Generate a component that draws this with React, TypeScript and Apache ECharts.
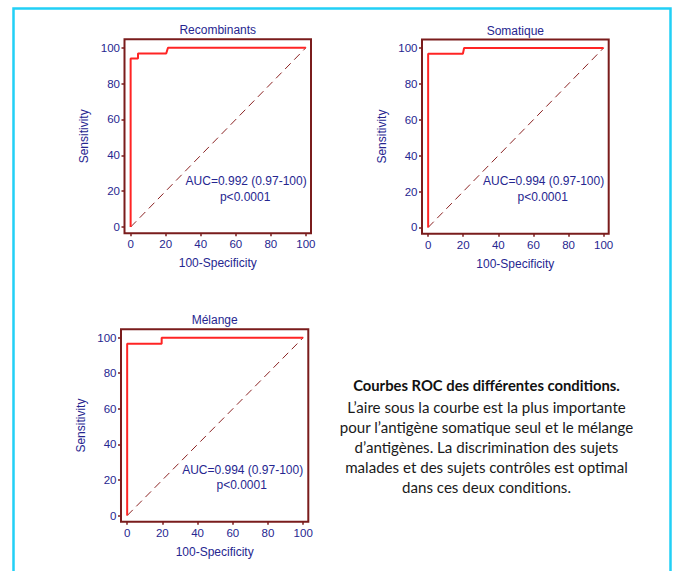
import React, { useEffect, useRef } from "react";
import * as echarts from "echarts";

// ---- data ----
const panelTitles = ["Recombinants", "Somatique", "Mélange"];
const recombinantsFpr = [0, 0, 4.2, 4.2, 20.3, 21.3, 100];
const recombinantsSens = [0, 94, 94, 96.8, 96.8, 100, 100];
const somatiqueFpr = [0, 0, 19.8, 20.5, 100];
const somatiqueSens = [0, 96.8, 96.8, 100, 100];
const melangeFpr = [0, 0, 19.6, 19.6, 100];
const melangeSens = [0, 96.6, 96.6, 100, 100];
const diagonalX = [0, 100];
const diagonalY = [0, 100];
const tickValues = [0, 20, 40, 60, 80, 100];
const aucLabels = ["AUC=0.992 (0.97-100)", "AUC=0.994 (0.97-100)", "AUC=0.994 (0.97-100)"];
const pLabels = ["p<0.0001", "p<0.0001", "p<0.0001"];
const captionTitle = "Courbes ROC des différentes conditions.";
const captionLines = [
  "L\u2019aire sous la courbe est la plus importante",
  "pour l\u2019antigène somatique seul et le mélange",
  "d\u2019antigènes. La discrimination des sujets",
  "malades et des sujets contrôles est optimal",
  "dans ces deux conditions.",
];

const NAVY = "#262690";
const MAROON = "#7a1c1c";
const RED = "#ff2424";
const FONT = "Liberation Sans, Arial, sans-serif";

const grids = [
  { left: 124.5, top: 39.3, width: 186.5, height: 194 },
  { left: 422, top: 39.5, width: 186.7, height: 194.2 },
  { left: 121, top: 329.3, width: 187.3, height: 192.5 },
];
const curves = [
  [recombinantsFpr, recombinantsSens],
  [somatiqueFpr, somatiqueSens],
  [melangeFpr, melangeSens],
];

const zip = (a: number[], b: number[]) => a.map((v, i) => [v, b[i]]);

export default function App() {
  const ref = useRef<HTMLDivElement>(null);
  useEffect(() => {
    if (!ref.current) return;
    const chart = echarts.init(ref.current, null, { renderer: "svg" });
    const xAxes: any[] = [];
    const yAxes: any[] = [];
    const series: any[] = [];
    const graphic: any[] = [];

    graphic.push({
      type: "rect",
      z: 0,
      shape: { x: 13.5, y: 8.5, width: 657, height: 620 },
      style: { fill: "none", stroke: "#22d0f6", lineWidth: 2.5 },
    });

    grids.forEach((g, i) => {
      xAxes.push({
        gridIndex: i,
        type: "value",
        min: -3.5,
        max: 102.9,
        axisLine: { show: false, onZero: false },
        splitLine: { show: false },
        axisTick: {
          show: true,
          length: 3,
          inside: false,
          customValues: tickValues,
          lineStyle: { color: MAROON, width: 1.5 },
        },
        axisLabel: {
          customValues: tickValues,
          color: NAVY,
          fontSize: 11.5,
          fontFamily: FONT,
          margin: 5,
        },
        name: "100-Specificity",
        nameLocation: "middle",
        nameGap: 24,
        nameMoveOverlap: false,
        nameTextStyle: { color: NAVY, fontSize: 12, fontFamily: FONT },
      });
      yAxes.push({
        gridIndex: i,
        type: "value",
        min: -3.5,
        max: 104.7,
        axisLine: { show: false, onZero: false },
        splitLine: { show: false },
        axisTick: {
          show: true,
          length: 3,
          inside: false,
          customValues: tickValues,
          lineStyle: { color: MAROON, width: 1.5 },
        },
        axisLabel: {
          customValues: tickValues,
          color: NAVY,
          fontSize: 11.5,
          fontFamily: FONT,
          margin: 4.5,
        },
        name: "Sensitivity",
        nameLocation: "middle",
        nameGap: 34.5,
        nameMoveOverlap: false,
        nameTextStyle: { color: NAVY, fontSize: 12, fontFamily: FONT },
      });
      series.push({
        type: "line",
        xAxisIndex: i,
        yAxisIndex: i,
        data: zip(diagonalX, diagonalY),
        symbol: "none",
        lineStyle: { color: "#8b2424", width: 1, type: [8, 5] },
        z: 2,
      });
      series.push({
        type: "line",
        xAxisIndex: i,
        yAxisIndex: i,
        data: zip(curves[i][0], curves[i][1]),
        symbol: "none",
        lineStyle: { color: RED, width: 2 },
        z: 3,
      });
      const cx = g.left + g.width / 2;
      graphic.push({
        type: "text",
        x: cx,
        y: g.top - 9,
        z: 10,
        style: {
          text: panelTitles[i],
          fill: NAVY,
          fontSize: 12,
          fontFamily: FONT,
          align: "center",
          verticalAlign: "middle",
          textAlign: "center",
          textVerticalAlign: "middle",
        },
      });
      const x0 = g.left + (3.5 / 106.4) * g.width;
      const y0 = g.top + g.height - (3.5 / 108.2) * g.height;
      graphic.push({
        type: "text",
        x: x0 + 115.5,
        y: y0 - 46,
        z: 10,
        style: {
          text: aucLabels[i],
          fill: NAVY,
          fontSize: 12,
          fontFamily: FONT,
          align: "center",
          verticalAlign: "middle",
          textAlign: "center",
          textVerticalAlign: "middle",
          backgroundColor: "#ffffff",
        },
      });
      graphic.push({
        type: "text",
        x: x0 + 114.5,
        y: y0 - 30.5,
        z: 10,
        style: {
          text: pLabels[i],
          fill: NAVY,
          fontSize: 12,
          fontFamily: FONT,
          align: "center",
          verticalAlign: "middle",
          textAlign: "center",
          textVerticalAlign: "middle",
          backgroundColor: "#ffffff",
        },
      });
    });

    graphic.push({
      type: "text",
      x: 486.5,
      y: 385,
      z: 10,
      style: {
        text: captionTitle,
        fill: "#111111",
        fontSize: 14.8,
        fontWeight: "bold",
        fontFamily: "Lato, sans-serif",
        align: "center",
        verticalAlign: "middle",
        textAlign: "center",
        textVerticalAlign: "middle",
      },
    });
    captionLines.forEach((line, k) => {
      graphic.push({
        type: "text",
        x: 486.5,
        y: 406.5 + k * 20,
        z: 10,
        style: {
          text: line,
          fill: "#1a1a1a",
          fontSize: 15.1,
          fontFamily: "Lato, sans-serif",
          align: "center",
          verticalAlign: "middle",
          textAlign: "center",
          textVerticalAlign: "middle",
        },
      });
    });

    chart.setOption({
      animation: false,
      backgroundColor: "#ffffff",
      grid: grids.map((g) => ({
        ...g,
        show: true,
        borderColor: MAROON,
        borderWidth: 2,
        backgroundColor: "transparent",
        containLabel: false,
      })),
      xAxis: xAxes,
      yAxis: yAxes,
      series,
      graphic,
    });
    return () => chart.dispose();
  }, []);
  return (
    <div
      ref={ref}
      style={{ position: "fixed", left: 0, top: 0, width: 673, height: 571 }}
    />
  );
}
